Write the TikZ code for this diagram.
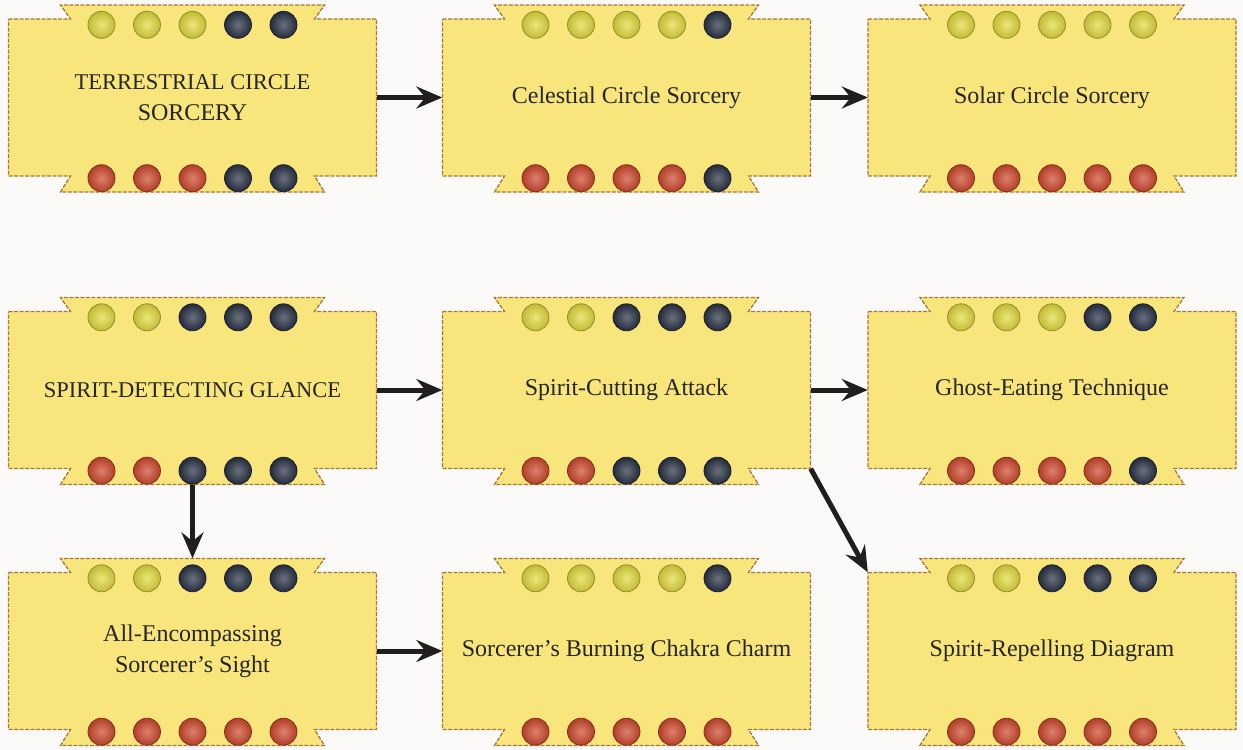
\documentclass[tikz,border=0pt]{standalone}
\usepackage{tikz}
\usepackage{fontspec}
\setmainfont{Liberation Serif}
\usetikzlibrary{arrows.meta}

\definecolor{paper}{HTML}{FBFAF8}
\definecolor{cardfill}{HTML}{F8E57C}
\definecolor{cardedge}{HTML}{A87838}
\definecolor{gemY}{HTML}{E4DC40}
\definecolor{gemR}{HTML}{D04A30}
\definecolor{gemK}{HTML}{2A3346}

% one row of five gems under/over a card
\newcommand{\gemrow}[3]{%
  \foreach \c [count=\i] in {#3}
    \shade[inner color=gem\c!70!white,outer color=gem\c!85!black,draw=gem\c!65!black,line width=0.8pt]
      ([xshift={(\i-3)*45.5pt},yshift=#2]#1) circle[radius=13.5pt];}

% card with ribbon tabs: name, centre, text, top gems, bottom gems
\newcommand{\card}[5]{%
  \filldraw[cardline] (#2) ++(-184,-78.5) -- ++(62,0) -- ++(-10,-14) -- ++(264,0) -- ++(-10,14)
    -- ++(62,0) -- ++(0,157) -- ++(-62,0) -- ++(10,16) -- ++(-264,0) -- ++(10,-16)
    -- ++(-62,0) -- cycle;
  \node[cardtext] (#1) at (#2) {#3};
  \gemrow{#1.north}{-6pt}{#4}
  \gemrow{#1.south}{-2pt}{#5}}

\newcommand{\capsfont}{\fontsize{22.5}{31}\selectfont}

\begin{document}
\begin{tikzpicture}[
  x=1pt, y=-1pt,
  cardline/.style={fill=cardfill,draw=cardedge,line width=1.3pt,dash pattern=on 4pt off 1.5pt},
  cardtext/.style={minimum width=368pt,minimum height=157pt,inner sep=0pt,align=center,
    font=\fontsize{24}{31}\selectfont,text=black!85},
  link/.style={-{Stealth[length=26pt,width=22pt,inset=9pt]},line width=5pt,black!88}
]
  \fill[paper] (0,0) rectangle (1243,750);
  \useasboundingbox (0,0) rectangle (1243,750);

  \card{b1}{192.5,97.5}{\capsfont TERRESTRIAL CIRCLE\\SORCERY}{Y,Y,Y,K,K}{R,R,R,K,K}
  \card{b2}{626.5,97.5}{Celestial Circle Sorcery}{Y,Y,Y,Y,K}{R,R,R,R,K}
  \card{b3}{1052,97.5}{Solar Circle Sorcery}{Y,Y,Y,Y,Y}{R,R,R,R,R}
  \card{b4}{192.5,390}{\capsfont SPIRIT-DETECTING GLANCE}{Y,Y,K,K,K}{R,R,K,K,K}
  \card{b5}{626.5,390}{Spirit-Cutting Attack}{Y,Y,K,K,K}{R,R,K,K,K}
  \card{b6}{1052,390}{Ghost-Eating Technique}{Y,Y,Y,K,K}{R,R,R,R,K}
  \card{b7}{192.5,651}{All-Encompassing\\Sorcerer's Sight}{Y,Y,K,K,K}{R,R,R,R,R}
  \card{b8}{626.5,651}{Sorcerer's Burning Chakra Charm}{Y,Y,Y,Y,K}{R,R,R,R,R}
  \card{b9}{1052,651}{Spirit-Repelling Diagram}{Y,Y,K,K,K}{R,R,R,R,R}

  \draw[link] (b1.east) -- (b2.west);
  \draw[link] (b2.east) -- (b3.west);
  \draw[link] (b4.east) -- (b5.west);
  \draw[link] (b5.east) -- (b6.west);
  \draw[link] ([yshift=-16pt]b4.south) -- ([yshift=14pt]b7.north);
  \draw[link] (b5.south east) -- (b9.north west);
  \draw[link] (b7.east) -- (b8.west);
\end{tikzpicture}
\end{document}
